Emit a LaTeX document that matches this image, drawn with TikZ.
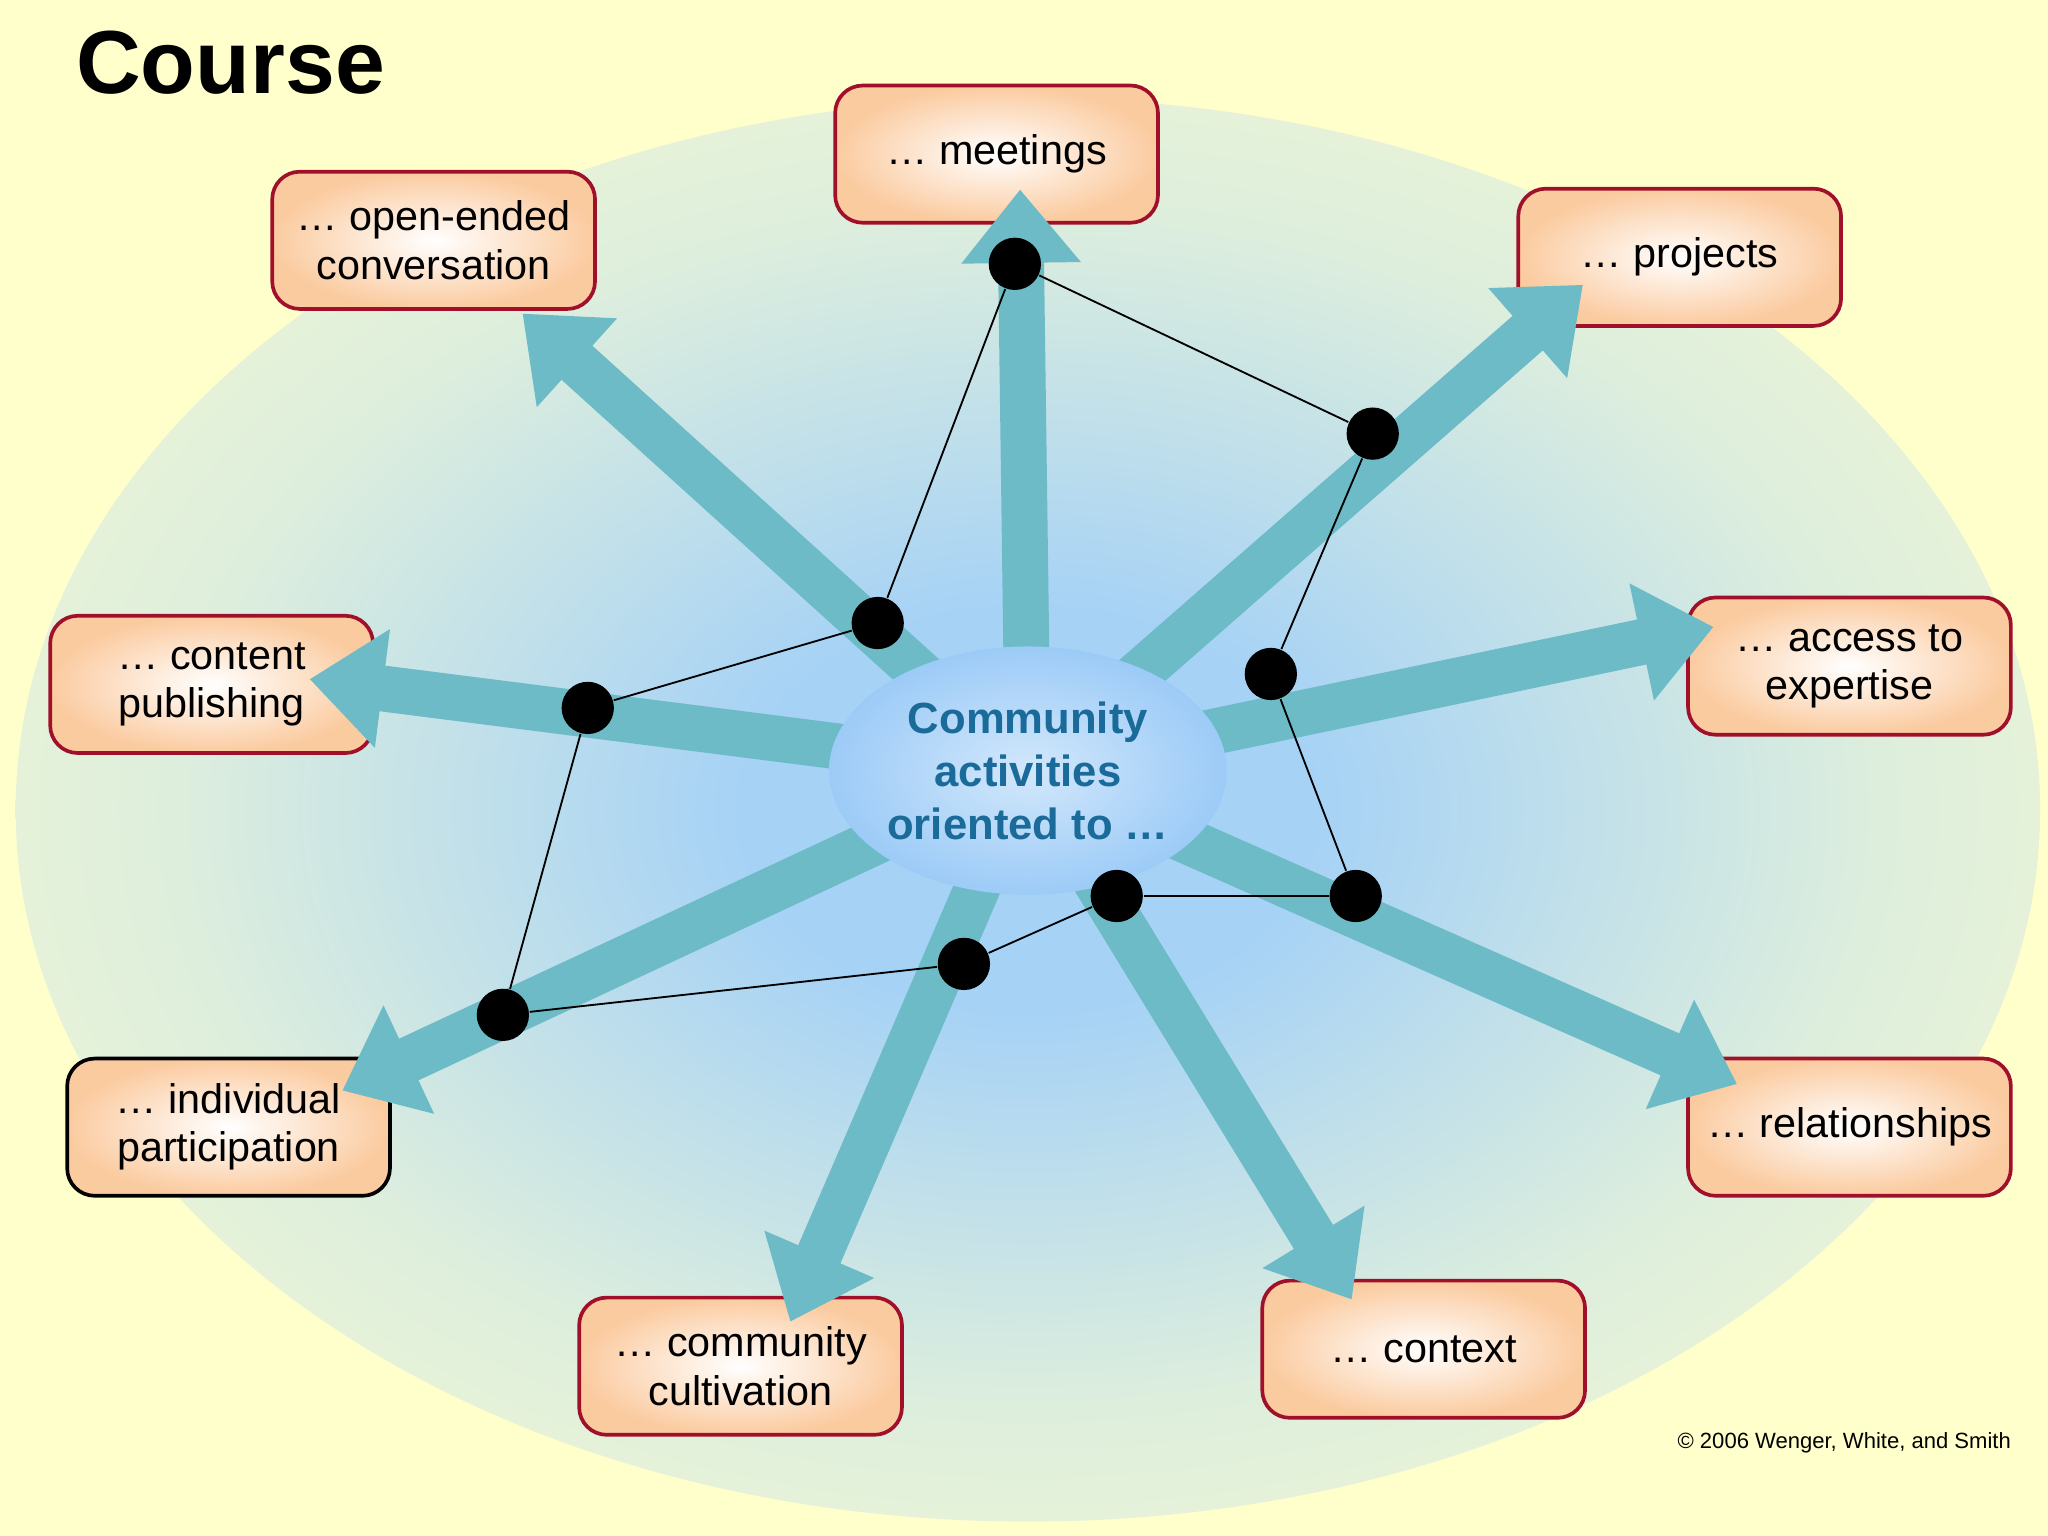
\documentclass[tikz,border=0pt]{standalone}
\usepackage{fontspec}
\setmainfont{Liberation Sans}
\usepackage{tikz}
\usetikzlibrary{shapes, arrows.meta, positioning}
\definecolor{bgyellow}{HTML}{FFFFCC}
\definecolor{teal1}{HTML}{6DBBC6}
\definecolor{boxred}{HTML}{A0102A}
\definecolor{boxorange}{HTML}{FBCBA0}
\definecolor{midblue}{HTML}{A6D2F6}
\definecolor{hubblue}{HTML}{9CCBF7}
\definecolor{palegreen}{HTML}{DDEEDD}
\definecolor{txtblue}{HTML}{1A6A9A}
\pgfdeclareradialshading{bgshade}{\pgfpoint{0bp}{0bp}}{color(0bp)=(midblue); color(7bp)=(midblue); color(21bp)=(palegreen); color(31bp)=(bgyellow!60!palegreen); color(36bp)=(bgyellow); color(50bp)=(bgyellow)}
\begin{document}
\begin{tikzpicture}[x=0.01cm, y=-0.01cm,
        box/.style={rectangle, draw=boxred, thick, rounded corners=6pt, inner color=white, outer color=boxorange, align=center, font=\fontsize{9}{10.5}\selectfont, minimum height=1.05cm, minimum width=2.47cm},
        spoke/.style={-{Triangle[width=25pt,length=16pt]}, line width=10pt, color=teal1},
        dot/.style={circle, fill=black, minimum size=0.4cm, inner sep=0pt},
        link/.style={black, thin}
    ]
        \useasboundingbox (0,0) rectangle (1568,1176);
        \fill[bgyellow] (0,0) rectangle (1568,1176);
        \shade[shading=bgshade] (787,620) ellipse (775 and 545);

        \node[font=\bfseries\fontsize{19.5}{22}\selectfont, anchor=west] (title) at (46,48) {Course};

        % Boxes
        \node[box] (meet) at (763,118) {… meetings};
        \node[box] (conv) at (332,184) {… open-ended\\ conversation};
        \node[box] (proj) at (1286,197) {… projects};
        \node[box] (pub) at (162,524) {… content\\ publishing};
        \node[box] (exp) at (1416,510) {… access to\\ expertise};
        \node[box, draw=black] (indiv) at (175,863) {… individual\\ participation};
        \node[box] (rel) at (1416,863) {… relationships};
        \node[box] (cult) at (567,1046) {… community\\ cultivation};
        \node[box] (ctx) at (1090,1033) {… context};

        % Spokes
        \coordinate (hub) at (787,590);
        \coordinate (tmeet) at (781,145);
        \coordinate (tconv) at (400,240);
        \coordinate (tproj) at (1212,218);
        \coordinate (tpub) at (237,520);
        \coordinate (texp) at (1312,480);
        \coordinate (tindiv) at (262,835);
        \coordinate (trel) at (1330,830);
        \coordinate (tcult) at (605,1012);
        \coordinate (tctx) at (1035,995);
        \foreach \t in {tmeet, tconv, tproj, tpub, texp, tindiv, trel, tcult, tctx}
            \draw[spoke] (hub) -- (\t);

        % Center
        \node[ellipse, minimum width=2.9cm, minimum height=1.9cm, inner color=hubblue!45!white, outer color=hubblue, font=\bfseries\fontsize{9.5}{11.5}\selectfont, text=txtblue, align=center, inner sep=0pt] (center) at (787,590) {Community\\ activities\\ oriented to …};

        % Dots and links
        \node[dot] (d1) at (777,202) {};
        \node[dot] (d2) at (1051,332) {};
        \node[dot] (d3) at (672,477) {};
        \node[dot] (d4) at (973,516) {};
        \node[dot] (d5) at (450,542) {};
        \node[dot] (d6) at (1038,686) {};
        \node[dot] (d7) at (855,686) {};
        \node[dot] (d8) at (738,738) {};
        \node[dot] (d9) at (385,777) {};
        \foreach \a/\b in {d1/d2, d1/d3, d2/d4, d3/d5, d4/d6, d5/d9, d6/d7, d7/d8, d8/d9}
            \draw[link] (\a) -- (\b);

        \node[font=\fontsize{4.8}{6}\selectfont, anchor=east] (copy) at (1552,1105) {© 2006 Wenger, White, and Smith};
    \end{tikzpicture}
\end{document}
